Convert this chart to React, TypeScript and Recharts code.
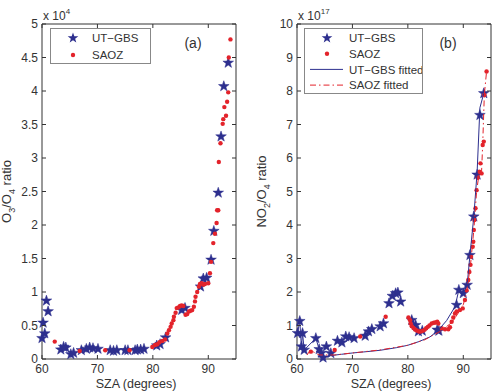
import React from "react"
import { ComposedChart, Scatter, XAxis, YAxis, ReferenceArea, Legend } from "recharts"

// SZA (deg), O3/O4 ratio (x 10^4)
const gbsO3: [number, number][] = [
  [60.0, 0.31], [60.2, 0.54], [60.5, 0.38], [60.8, 0.87], [61.1, 0.71],
  [63.4, 0.14], [63.9, 0.18], [64.3, 0.17], [65.2, 0.07], [65.7, 0.09],
  [67.1, 0.13], [68.0, 0.15], [68.6, 0.17], [69.2, 0.16], [70.1, 0.15],
  [72.3, 0.13], [72.9, 0.12], [73.5, 0.13], [75.0, 0.13], [75.5, 0.13],
  [76.8, 0.13], [77.2, 0.14], [77.8, 0.14], [78.4, 0.15], [80.7, 0.2],
  [81.3, 0.22], [82.3, 0.32], [85.2, 0.73], [85.8, 0.76], [88.6, 1.08],
  [89.1, 1.2], [89.7, 1.21], [90.5, 1.48], [91.0, 1.91], [91.8, 2.48],
  [92.3, 3.32], [92.8, 4.07], [93.6, 4.42],
]

const saozO3: [number, number][] = [
  [62.3, 0.26], [66.8, 0.12], [71.4, 0.13], [75.8, 0.13], [79.9, 0.18],
  [80.4, 0.21], [80.8, 0.22], [81.2, 0.25], [81.7, 0.27], [82.2, 0.29],
  [82.6, 0.38], [82.9, 0.43], [83.2, 0.48], [83.4, 0.53], [83.7, 0.58],
  [83.8, 0.63], [84.1, 0.69], [84.3, 0.76], [84.6, 0.77], [84.9, 0.79],
  [85.2, 0.8], [85.5, 0.79], [85.9, 0.66], [86.2, 0.67], [86.5, 0.71],
  [86.8, 0.72], [87.1, 0.73], [87.4, 0.78], [87.6, 0.86], [87.7, 0.93],
  [88.0, 1.0], [88.3, 1.08], [88.5, 1.12], [88.8, 1.13], [89.1, 1.11],
  [89.4, 1.12], [90.0, 1.13], [90.3, 1.28], [90.5, 1.45], [90.9, 1.73],
  [91.2, 1.87], [91.5, 2.03], [91.6, 2.22], [91.8, 2.22], [91.9, 2.94],
  [92.2, 3.22], [92.6, 3.51], [92.7, 3.58], [92.9, 3.76], [93.2, 3.63],
  [93.4, 3.84], [93.6, 3.98], [93.7, 4.5], [94.0, 4.77],
]

// SZA (deg), NO2/O4 ratio (x 10^17)
const gbsNO2: [number, number][] = [
  [60.1, 0.77], [60.5, 1.13], [60.8, 0.37], [61.0, 0.77], [61.3, 0.27],
  [63.4, 0.62], [64.0, 0.29], [64.4, 0.18], [64.7, 0.04], [65.3, 0.37],
  [66.1, 0.17], [67.3, 0.54], [68.1, 0.49], [68.8, 0.67], [69.4, 0.65],
  [70.3, 0.62], [72.3, 0.69], [72.9, 0.82], [73.5, 0.89], [75.0, 0.97],
  [75.6, 1.06], [76.6, 1.66], [77.2, 1.88], [77.8, 1.96], [78.2, 1.98],
  [78.7, 1.71], [80.7, 1.16], [81.4, 1.01], [81.9, 0.82], [82.6, 0.84],
  [85.3, 0.87], [85.6, 0.84], [88.8, 1.61], [89.2, 2.06], [90.0, 1.96],
  [90.7, 2.21], [91.2, 3.1], [91.9, 4.25], [92.5, 5.5], [93.0, 7.28],
  [93.7, 7.93],
]

const saozNO2: [number, number][] = [
  [62.5, 0.22], [66.8, 0.27], [71.4, 0.67], [76.0, 1.26], [80.1, 1.24],
  [80.4, 1.16], [80.5, 1.06], [80.7, 0.98], [81.0, 0.93], [81.3, 0.88],
  [81.6, 0.85], [82.0, 0.82], [82.3, 0.82], [82.7, 0.84], [83.0, 0.87],
  [83.3, 0.92], [83.6, 0.96], [83.9, 1.0], [84.3, 1.06], [84.7, 1.08],
  [85.0, 1.09], [85.3, 1.11], [85.5, 1.06], [86.1, 0.92], [86.7, 0.89],
  [87.3, 0.89], [87.6, 0.95], [87.9, 1.11], [88.2, 1.24], [88.5, 1.36],
  [88.8, 1.42], [89.4, 1.46], [89.9, 1.51], [90.3, 1.76], [90.6, 2.05],
  [90.9, 2.36], [91.1, 2.6], [91.3, 2.81], [91.4, 3.05], [91.7, 3.35],
  [91.8, 3.5], [91.9, 3.85], [92.0, 4.15], [92.2, 4.5], [92.4, 5.04],
  [92.6, 5.41], [92.9, 5.59], [93.1, 5.84], [93.3, 5.54], [93.5, 6.39],
  [93.7, 6.49], [93.8, 7.88], [94.2, 8.58],
]

const gbsFit: [number, number][] = [
  [60.1, 0.77], [60.5, 1.13], [60.8, 0.37], [61.0, 0.77], [61.3, 0.27],
  [63.4, 0.62], [64.0, 0.29], [64.7, 0.04], [66.0, 0.1], [68.0, 0.14],
  [70.0, 0.18], [72.0, 0.21], [75.0, 0.26], [78.0, 0.34], [80.0, 0.41],
  [82.0, 0.52], [84.0, 0.66], [85.5, 0.86], [87.0, 1.15], [88.5, 1.56],
  [89.2, 2.06], [90.0, 1.96], [90.7, 2.21], [91.2, 3.1], [91.9, 4.25],
  [92.5, 5.6], [93.0, 7.5], [93.7, 7.93],
]

const saozFit: [number, number][] = [
  [61.8, 0.12], [62.4, 0.26], [64.0, 0.12], [66.8, 0.12], [70.0, 0.18],
  [75.0, 0.27], [80.0, 0.41], [83.0, 0.57], [86.0, 0.84], [88.0, 1.1],
  [89.0, 1.35], [90.0, 1.62], [90.6, 2.0], [91.3, 2.8], [91.9, 3.85],
  [92.4, 5.0], [92.9, 5.6], [93.3, 5.6], [93.5, 6.4], [93.8, 7.9],
  [94.2, 8.58],
]

const xTicks = [60, 70, 80, 90]
const yTicksA = [0, 0.5, 1, 1.5, 2, 2.5, 3, 3.5, 4, 4.5, 5]
const yTicksB = [0, 1, 2, 3, 4, 5, 6, 7, 8, 9, 10]

const BLUE = "#2d2f8e"
const RED = "#e3232b"
const INK = "#333"
const TOP = 24
const BOTTOM = 359

const pts = (a: [number, number][]) => a.map(([x, y]) => ({ x, y }))

function starPoints(cx: number, cy: number, R: number) {
  const r = R * 0.4
  const out: string[] = []
  for (let i = 0; i < 10; i++) {
    const a = (-90 + i * 36) * (Math.PI / 180)
    const rad = i % 2 === 0 ? R : r
    out.push(`${cx + rad * Math.cos(a)},${cy + rad * Math.sin(a)}`)
  }
  return out.join(" ")
}

const Star = (props: any) => (
  <polygon points={starPoints(props.cx, props.cy, 5.6)} fill={BLUE} stroke={BLUE} strokeWidth={0.5} />
)
const Dot = (props: any) => <circle cx={props.cx} cy={props.cy} r={2.2} fill={RED} />
const NoShape = () => <g />

function makeXTick() {
  return (props: any) => {
    const { x, payload } = props
    return (
      <g>
        <line x1={x} x2={x} y1={BOTTOM} y2={BOTTOM - 4} stroke={INK} />
        <line x1={x} x2={x} y1={TOP} y2={TOP + 4} stroke={INK} />
        <text x={x} y={BOTTOM + 14} textAnchor="middle" fontSize={12} fill={INK}>
          {payload.value}
        </text>
      </g>
    )
  }
}

function makeYTick(left: number, right: number) {
  return (props: any) => {
    const { y, payload } = props
    return (
      <g>
        <line x1={left} x2={left + 4} y1={y} y2={y} stroke={INK} />
        <line x1={right} x2={right - 4} y1={y} y2={y} stroke={INK} />
        <text x={left - 4} y={y + 4} textAnchor="end" fontSize={12} fill={INK}>
          {payload.value}
        </text>
      </g>
    )
  }
}

function xTitle(cx: number) {
  return () => (
    <text x={cx} y={387.5} textAnchor="middle" fontSize={12.5} fill={INK}>
      SZA (degrees)
    </text>
  )
}

function LegendBox({ width, rows }: { width: number; rows: { kind: string; label: string }[] }) {
  const h = rows.length === 2 ? 36 : 66
  const step = rows.length === 2 ? 17 : 15.7
  return (
    <div style={{ width, height: h, border: "1px solid #888", background: "#fff", boxSizing: "border-box" }}>
      <svg width={width - 2} height={h - 2} style={{ display: "block" }}>
        {rows.map((r, i) => {
          const cy = 9 + i * step
          const tx = rows.length === 2 ? 41 : 44
          return (
            <g key={r.label}>
              {r.kind === "star" && <polygon points={starPoints(22, cy, 5.6)} fill={BLUE} />}
              {r.kind === "dot" && <circle cx={22} cy={cy} r={2.2} fill={RED} />}
              {r.kind === "line" && <line x1={5} x2={38} y1={cy} y2={cy} stroke={BLUE} strokeWidth={1} />}
              {r.kind === "dash" && (
                <line x1={5} x2={38} y1={cy} y2={cy} stroke={RED} strokeWidth={1} strokeDasharray="6 3 1.5 3" />
              )}
              <text x={tx} y={cy + 4.2} fontSize={11.5} fill={INK}>
                {r.label}
              </text>
            </g>
          )
        })}
      </svg>
    </div>
  )
}

export default function App() {
  return (
    <div
      style={{
        position: "absolute",
        left: 0,
        top: 0,
        width: 496,
        height: 392,
        background: "#fff",
        fontFamily: "'Liberation Sans', Arial, sans-serif",
      }}
    >
      <div style={{ position: "absolute", left: 0, top: 0 }}>
        <ComposedChart width={248} height={392} margin={{ top: 24, right: 12, bottom: 0, left: 0 }}>
          <XAxis
            dataKey="x"
            type="number"
            domain={[60, 95]}
            ticks={xTicks}
            height={33}
            axisLine={false}
            tickLine={false}
            tick={makeXTick()}
            label={{ content: xTitle(136) }}
          />
          <YAxis
            dataKey="y"
            type="number"
            domain={[0, 5]}
            ticks={yTicksA}
            width={42}
            axisLine={false}
            tickLine={false}
            tick={makeYTick(42, 236)}
            label={{
              content: () => (
                <g>
                  <text transform={`translate(11,${(TOP + BOTTOM) / 2}) rotate(-90)`} textAnchor="middle" fontSize={13} fill={INK}>
                    O<tspan dy={4} fontSize={9}>3</tspan>
                    <tspan dy={-4}>/O</tspan>
                    <tspan dy={4} fontSize={9}>4</tspan>
                    <tspan dy={-4}> ratio</tspan>
                  </text>
                  <text x={43} y={20} fontSize={12} fill={INK}>
                    x 10<tspan dy={-6} fontSize={8}>4</tspan>
                  </text>
                  <text x={193} y={48} textAnchor="middle" fontSize={14} fill={INK}>(a)</text>
                </g>
              ),
            }}
          />
          <ReferenceArea x1={60} x2={95} y1={0} y2={5} fill="none" stroke={INK} strokeWidth={1} ifOverflow="visible" />
          <Scatter name="UT−GBS" data={pts(gbsO3)} shape={Star} isAnimationActive={false} />
          <Scatter name="SAOZ" data={pts(saozO3)} shape={Dot} isAnimationActive={false} />
          <Legend
            layout="vertical"
            align="center"
            verticalAlign="middle"
            wrapperStyle={{ left: 50, top: 28, width: 101, height: 36 }}
            content={() => (
              <LegendBox
                width={101}
                rows={[
                  { kind: "star", label: "UT−GBS" },
                  { kind: "dot", label: "SAOZ" },
                ]}
              />
            )}
          />
        </ComposedChart>
      </div>
      <div style={{ position: "absolute", left: 248, top: 0 }}>
        <ComposedChart width={248} height={392} margin={{ top: 24, right: 5, bottom: 0, left: 0 }}>
          <XAxis
            dataKey="x"
            type="number"
            domain={[60, 95]}
            ticks={xTicks}
            height={33}
            axisLine={false}
            tickLine={false}
            tick={makeXTick()}
            label={{ content: xTitle(143) }}
          />
          <YAxis
            dataKey="y"
            type="number"
            domain={[0, 10]}
            ticks={yTicksB}
            width={49}
            axisLine={false}
            tickLine={false}
            tick={makeYTick(49, 243)}
            label={{
              content: () => (
                <g>
                  <text transform={`translate(18,${(TOP + BOTTOM) / 2}) rotate(-90)`} textAnchor="middle" fontSize={13} fill={INK}>
                    NO<tspan dy={4} fontSize={9}>2</tspan>
                    <tspan dy={-4}>/O</tspan>
                    <tspan dy={4} fontSize={9}>4</tspan>
                    <tspan dy={-4}> ratio</tspan>
                  </text>
                  <text x={50} y={20} fontSize={12} fill={INK}>
                    x 10<tspan dy={-6} fontSize={8}>17</tspan>
                  </text>
                  <text x={200} y={48} textAnchor="middle" fontSize={14} fill={INK}>(b)</text>
                </g>
              ),
            }}
          />
          <ReferenceArea x1={60} x2={95} y1={0} y2={10} fill="none" stroke={INK} strokeWidth={1} ifOverflow="visible" />
          <Scatter name="UT−GBS" data={pts(gbsNO2)} shape={Star} isAnimationActive={false} />
          <Scatter name="SAOZ" data={pts(saozNO2)} shape={Dot} isAnimationActive={false} />
          <Scatter
            name="UT−GBS fitted"
            data={pts(gbsFit)}
            shape={NoShape}
            line={{ stroke: BLUE, strokeWidth: 1 }}
            isAnimationActive={false}
          />
          <Scatter
            name="SAOZ fitted"
            data={pts(saozFit)}
            shape={NoShape}
            line={{ stroke: RED, strokeWidth: 1, strokeDasharray: "6 3 1.5 3" }}
            isAnimationActive={false}
          />
          <Legend
            layout="vertical"
            align="center"
            verticalAlign="middle"
            wrapperStyle={{ left: 56, top: 28, width: 119, height: 66 }}
            content={() => (
              <LegendBox
                width={119}
                rows={[
                  { kind: "star", label: "UT−GBS" },
                  { kind: "dot", label: "SAOZ" },
                  { kind: "line", label: "UT−GBS fitted" },
                  { kind: "dash", label: "SAOZ fitted" },
                ]}
              />
            )}
          />
        </ComposedChart>
      </div>
    </div>
  )
}
